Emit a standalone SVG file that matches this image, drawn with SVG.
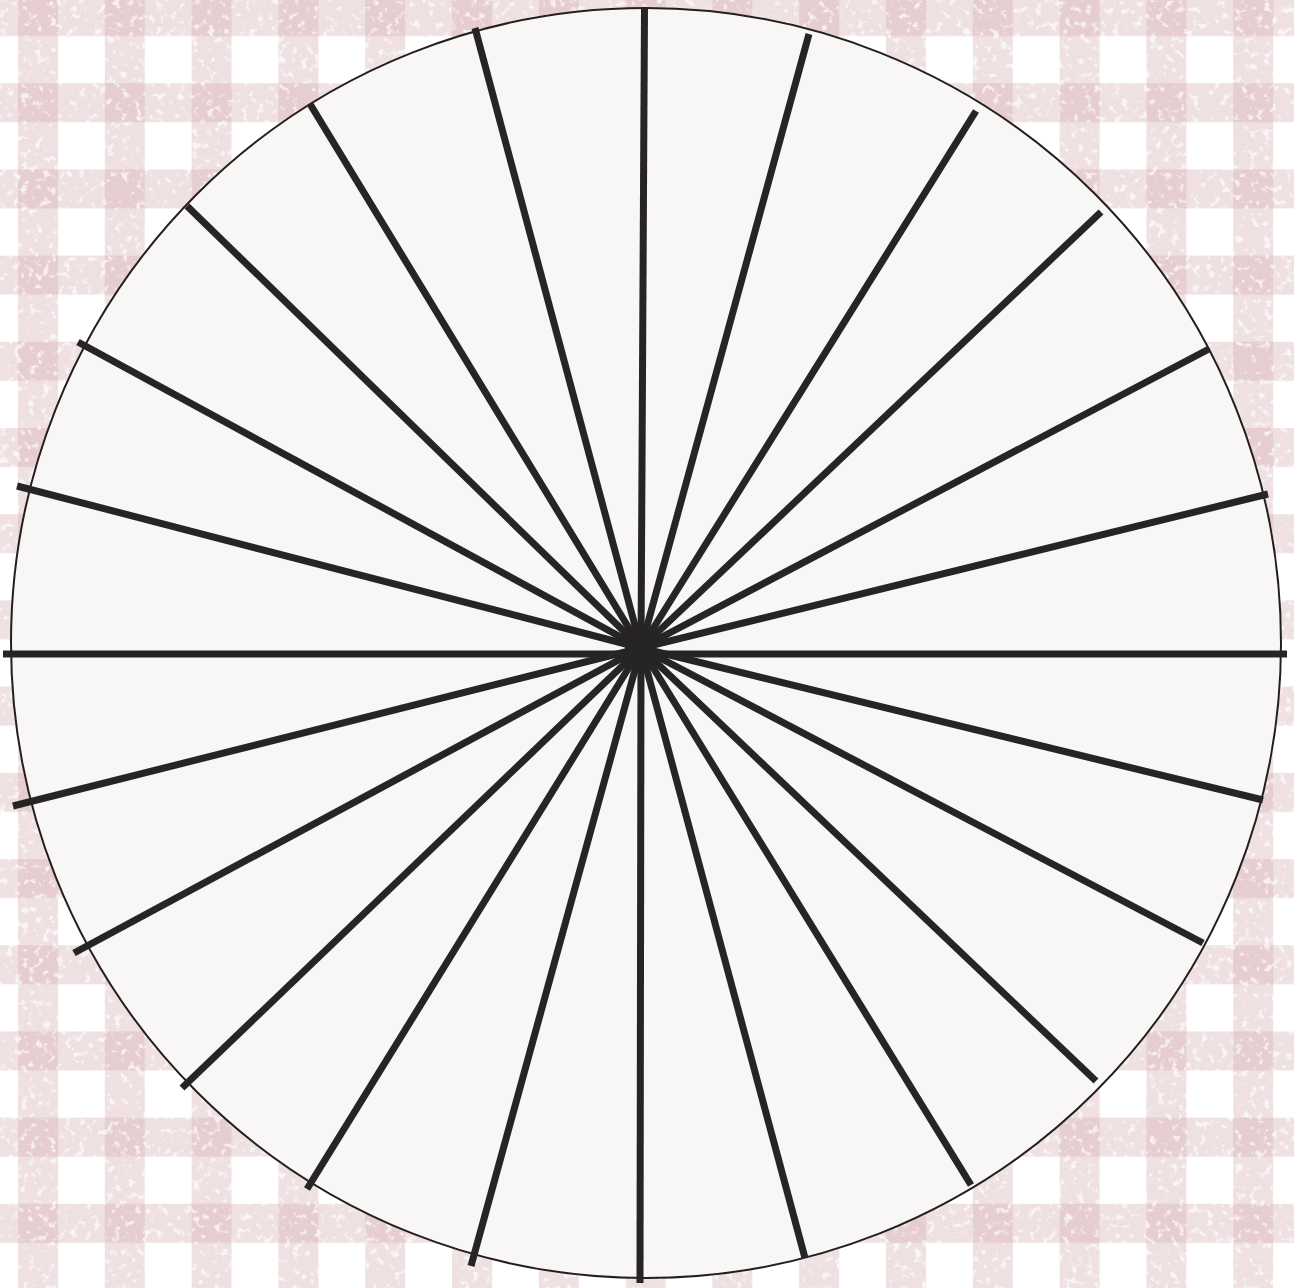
<svg xmlns="http://www.w3.org/2000/svg" width="1294" height="1288" viewBox="0 0 1294 1288">
  <style>
    .spoke { stroke: #272425; stroke-width: 7; stroke-linecap: butt; fill: none; }
    .band { fill: #d4adb3; fill-opacity: 0.38; }
  </style>
  <defs>
    <pattern id="vband" patternUnits="userSpaceOnUse" x="18" y="0" width="86.8" height="20">
      <rect class="band" x="0" y="0" width="40" height="20"/>
    </pattern>
    <pattern id="hband" patternUnits="userSpaceOnUse" x="0" y="-3" width="20" height="86.2">
      <rect class="band" x="0" y="0" width="20" height="39"/>
    </pattern>
    <filter id="speckle" filterUnits="userSpaceOnUse" x="0" y="0" width="1294" height="1288">
      <feTurbulence type="fractalNoise" baseFrequency="0.14" numOctaves="3" seed="7" result="n"/>
      <feColorMatrix in="n" type="matrix" values="0 0 0 0 1  0 0 0 0 1  0 0 0 0 1  6 0 0 0 -3.4"/>
    </filter>
  </defs>
  <g id="background">
    <rect width="1294" height="1288" fill="#ffffff"/>
    <rect width="1294" height="1288" fill="url(#vband)"/>
    <rect width="1294" height="1288" fill="url(#hband)"/>
    <rect width="1294" height="1288" fill="#ffffff" filter="url(#speckle)" opacity="0.7"/>
  </g>
  <g id="plate">
    <circle cx="646" cy="643" r="635" fill="#f8f7f6" stroke="#231f20" stroke-width="2"/>
  </g>
  <g id="spokes">
    <line class="spoke" x1="644.5" y1="9" x2="641" y2="648"/>
    <line class="spoke" x1="809" y1="34" x2="641" y2="648"/>
    <line class="spoke" x1="976" y1="111" x2="641" y2="648"/>
    <line class="spoke" x1="1101" y1="212" x2="641" y2="648"/>
    <line class="spoke" x1="1209" y1="349" x2="641" y2="648"/>
    <line class="spoke" x1="1268" y1="494" x2="641" y2="648"/>
    <line class="spoke" x1="1287" y1="654" x2="641" y2="654"/>
    <line class="spoke" x1="1263" y1="800" x2="641" y2="648"/>
    <line class="spoke" x1="1203" y1="943" x2="641" y2="648"/>
    <line class="spoke" x1="1096" y1="1081" x2="641" y2="648"/>
    <line class="spoke" x1="971" y1="1185" x2="641" y2="648"/>
    <line class="spoke" x1="805" y1="1258" x2="641" y2="648"/>
    <line class="spoke" x1="640" y1="1283" x2="641" y2="648"/>
    <line class="spoke" x1="471" y1="1266" x2="641" y2="648"/>
    <line class="spoke" x1="307" y1="1189" x2="641" y2="648"/>
    <line class="spoke" x1="182" y1="1088" x2="641" y2="648"/>
    <line class="spoke" x1="74" y1="953" x2="641" y2="648"/>
    <line class="spoke" x1="13" y1="806" x2="641" y2="648"/>
    <line class="spoke" x1="3" y1="654" x2="641" y2="654"/>
    <line class="spoke" x1="17" y1="486" x2="641" y2="648"/>
    <line class="spoke" x1="78" y1="342" x2="641" y2="648"/>
    <line class="spoke" x1="187" y1="206" x2="641" y2="648"/>
    <line class="spoke" x1="310" y1="104" x2="641" y2="648"/>
    <line class="spoke" x1="475" y1="28" x2="641" y2="648"/>
    <path d="M624,642 L632,634 L648,630 L656,640 L655,656 L646,668 L634,664 L626,654 Z" fill="#272425"/>
  </g>
</svg>
